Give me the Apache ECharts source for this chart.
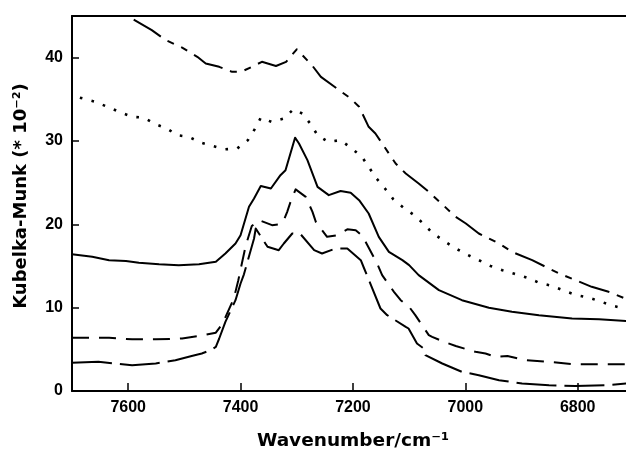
<!DOCTYPE html>
<html>
<head>
<meta charset="utf-8">
<script src="https://cdn.jsdelivr.net/npm/echarts@6/dist/echarts.min.js"></script>
<style>html,body{margin:0;padding:0;background:#fff}#c{width:626px;height:451px}</style>
</head>
<body>
<div id="c"></div>
<script>
// Tick labels
const xTicks = [7600, 7400, 7200, 7000, 6800];
const yTicks = [0, 10, 20, 30, 40];

// Curve A (top, long-short-short dashes)
const wnA = [7700,7640,7604,7558,7533,7504,7477,7462,7438,7415,7399,7380,7362,7337,7319,7300,7273,7257,7204,7189,7172,7160,7124,7106,7083,7065,7017,6999,6976,6940,6917,6881,6833,6804,6775,6745,6712];
const kmA = [48.5,46.6,45.1,43.3,42.1,41.2,40.1,39.3,38.9,38.3,38.3,38.9,39.5,39.0,39.5,41.0,39.1,37.7,35.1,34.1,31.7,30.9,27.3,26.1,24.9,23.9,20.9,20.1,18.9,17.7,16.7,15.7,14.1,13.3,12.5,11.9,11.0];

// Curve B (dotted)
const wnB = [7686,7658,7637,7616,7593,7572,7551,7531,7513,7492,7471,7450,7428,7406,7387,7374,7364,7345,7323,7306,7290,7275,7263,7244,7222,7202,7184,7172,7158,7143,7128,7110,7091,7075,7059,7038,7017,6998,6976,6955,6934,6914,6890,6869,6845,6823,6802,6780,6758,6736,6712];
const kmB = [35.2,34.7,34.1,33.5,32.9,32.8,32.0,31.5,30.7,30.5,29.8,29.4,29.0,29.1,30.1,31.5,32.8,32.3,32.7,33.8,33.3,32.0,30.7,29.9,30.1,29.1,28.1,26.9,25.5,24.3,23.0,22.0,21.1,20.1,19.0,18.0,17.1,16.4,15.7,15.0,14.5,14.1,13.6,13.0,12.6,12.0,11.5,11.2,10.7,10.2,9.8];

// Curve C (solid)
const wnC = [7700,7664,7634,7604,7581,7545,7510,7474,7444,7427,7409,7400,7385,7376,7364,7346,7329,7320,7303,7296,7281,7263,7243,7222,7204,7189,7172,7154,7136,7112,7100,7083,7047,7006,6958,6917,6869,6810,6762,6712];
const kmC = [16.4,16.1,15.7,15.6,15.4,15.2,15.1,15.2,15.5,16.5,17.7,18.7,22.1,23.1,24.6,24.3,25.9,26.5,30.4,29.7,27.7,24.5,23.5,24.0,23.8,22.9,21.3,18.5,16.7,15.7,15.1,13.9,12.1,10.9,10.0,9.5,9.1,8.7,8.6,8.4];

// Curve D (medium dashes)
const wnD = [7700,7634,7593,7551,7504,7474,7444,7432,7412,7404,7391,7380,7367,7344,7330,7323,7317,7311,7302,7284,7272,7266,7246,7228,7210,7195,7183,7157,7148,7127,7115,7100,7089,7065,7059,7038,7017,6982,6964,6946,6925,6893,6851,6804,6760,6712];
const kmD = [6.4,6.4,6.2,6.2,6.3,6.6,7.0,8.1,11.1,13.3,17.4,19.8,20.5,19.9,20.0,20.5,21.5,22.7,24.2,23.3,21.5,20.3,18.5,18.7,19.4,19.3,18.6,15.3,13.9,11.9,10.9,10.1,9.1,6.7,6.5,5.9,5.4,4.7,4.5,4.1,4.2,3.7,3.5,3.2,3.2,3.2];

// Curve E (long dashes)
const wnE = [7700,7653,7624,7593,7551,7516,7487,7469,7453,7444,7438,7427,7409,7400,7394,7376,7373,7352,7332,7323,7308,7293,7269,7255,7231,7210,7186,7180,7151,7139,7106,7101,7086,7074,7071,7041,7006,6976,6940,6899,6851,6804,6745,6712];
const kmE = [3.4,3.5,3.3,3.1,3.3,3.7,4.2,4.5,4.9,5.3,6.3,8.3,10.9,12.9,14.0,18.3,19.5,17.3,16.9,17.7,18.9,18.8,16.9,16.5,17.1,17.1,15.7,14.7,9.9,9.1,7.7,7.5,5.7,5.1,4.3,3.3,2.3,1.9,1.3,0.9,0.7,0.6,0.7,0.9];

const zip = (xs, ys) => xs.map((x, i) => [x, ys[i]]);
const tickFont = {fontFamily: '"Liberation Sans", Arial, sans-serif', fontWeight: 'bold', fontSize: 16, color: '#000'};
const titleFont = '"DejaVu Sans", sans-serif';

function mkSeries(name, xs, ys, type, width) {
  return {
    name: name, type: 'line', data: zip(xs, ys), showSymbol: false, symbol: 'none',
    smooth: false, clip: true, animation: false,
    lineStyle: {color: '#000', width: width || 2, type: type, cap: 'butt', join: 'round'}
  };
}

const X_MIN = 6714, X_MAX = 7700;

const chart = echarts.init(document.getElementById('c'), null, {renderer: 'canvas'});
chart.setOption({
  animation: false,
  backgroundColor: '#fff',
  grid: {left: 72, top: 16, bottom: 60, right: 0, show: false},
  xAxis: [{
    type: 'value', inverse: true, min: X_MIN, max: X_MAX,
    axisLine: {show: true, onZero: false, lineStyle: {color: '#000', width: 2}},
    axisTick: {show: true, inside: true, length: 8, lineStyle: {color: '#000', width: 1.5},
      customValues: xTicks},
    axisLabel: Object.assign({margin: 9, customValues: xTicks,
      formatter: v => String(v)}, tickFont),
    splitLine: {show: false}
  }, {
    type: 'value', inverse: true, min: X_MIN, max: X_MAX, position: 'top',
    axisLine: {show: true, onZero: false, lineStyle: {color: '#000', width: 2}},
    axisTick: {show: false}, axisLabel: {show: false}, splitLine: {show: false}
  }],
  yAxis: {
    type: 'value', min: 0, max: 45, interval: 10,
    axisLine: {show: true, onZero: false, lineStyle: {color: '#000', width: 2}},
    axisTick: {show: true, inside: true, length: 7, lineStyle: {color: '#000', width: 1.5},
      customValues: yTicks},
    axisLabel: Object.assign({margin: 9, customValues: yTicks,
      formatter: v => String(v)}, tickFont),
    splitLine: {show: false}
  },
  graphic: [
    {type: 'text', x: 353, y: 441.5, silent: true,
     style: {text: 'Wavenumber/cm⁻¹', fill: '#000', font: 'bold 18.5px ' + titleFont, textAlign: 'center', textVerticalAlign: 'middle'}},
    {type: 'text', x: 21.5, y: 196, rotation: Math.PI / 2, silent: true,
     style: {text: 'Kubelka-Munk (* 10⁻²)', fill: '#000', font: 'bold 18px ' + titleFont, textAlign: 'center', textVerticalAlign: 'middle'}}
  ],
  series: [
    mkSeries('A', wnA, kmA, [32, 8, 7, 8, 7, 8], 2),
    mkSeries('B', wnB, kmB, [2.6, 9.4], 2.6),
    mkSeries('C', wnC, kmC, 'solid', 2),
    mkSeries('D', wnD, kmD, [17, 10], 2),
    mkSeries('E', wnE, kmE, [40, 8], 2)
  ]
});
</script>
</body>
</html>
